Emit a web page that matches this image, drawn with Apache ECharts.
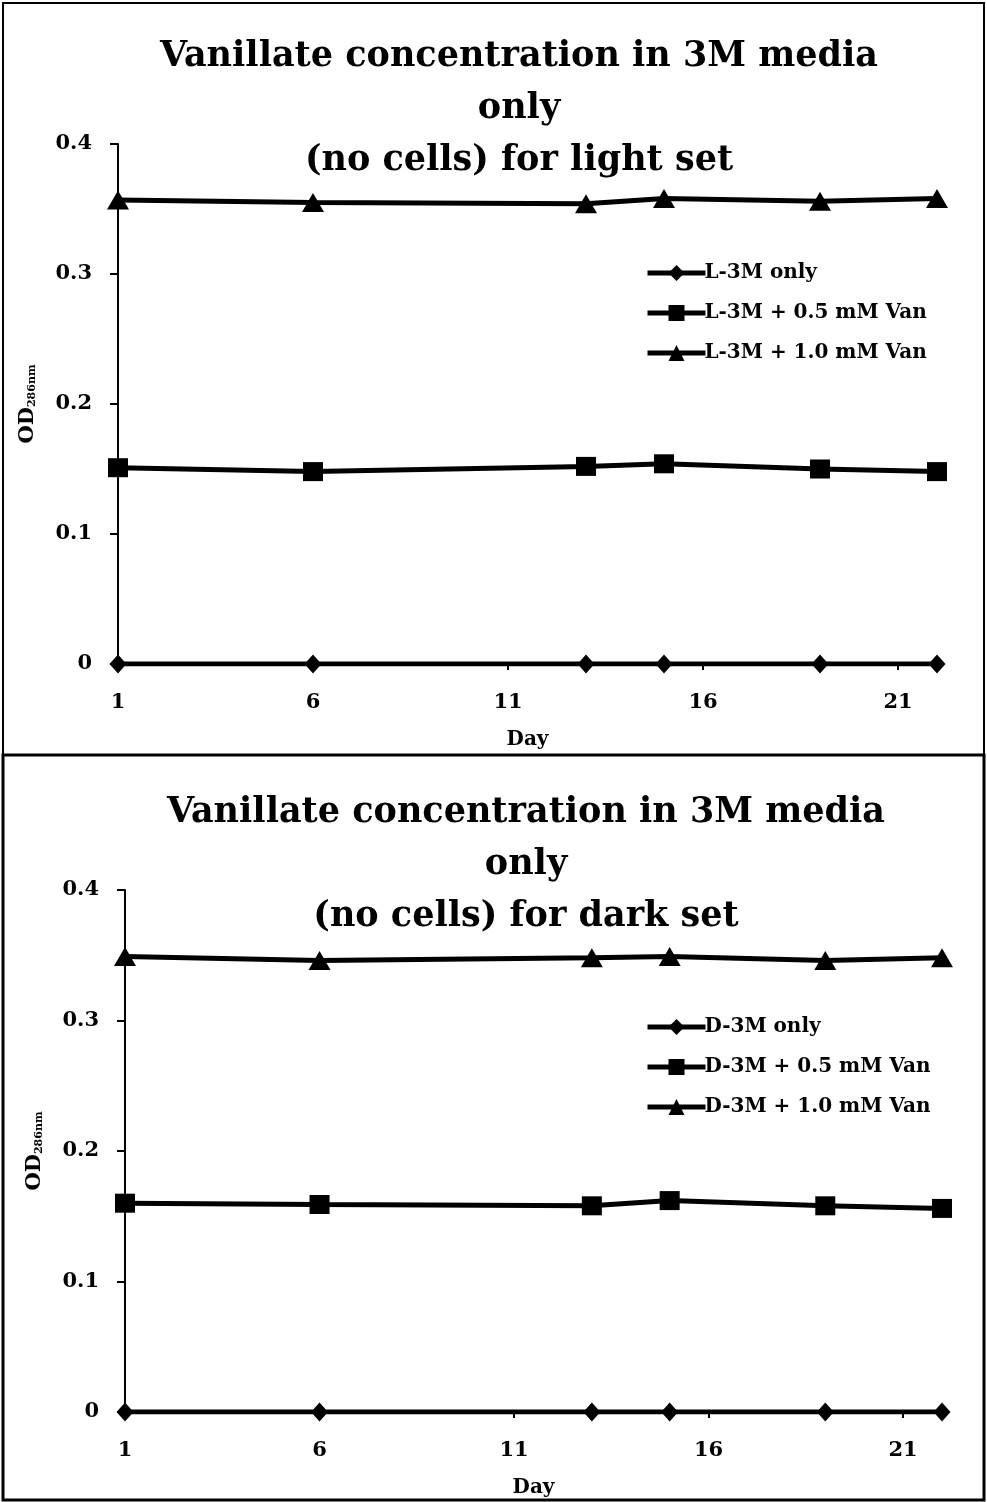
<!DOCTYPE html>
<html><head><meta charset="utf-8">
<script src="https://cdn.jsdelivr.net/npm/echarts@6/dist/echarts.min.js"></script>
<style>html,body{margin:0;padding:0;background:#fff}#c{width:987px;height:1502px}</style>
</head><body><div id="c"></div>
<script>
const days = [1, 6, 13, 15, 19, 22];
const xTicks = [1, 6, 11, 16, 21];
const yTicks = [0, 0.1, 0.2, 0.3, 0.4];
const lightNames = ['L-3M only', 'L-3M + 0.5 mM Van', 'L-3M + 1.0 mM Van'];
const darkNames = ['D-3M only', 'D-3M + 0.5 mM Van', 'D-3M + 1.0 mM Van'];
const lightOnly = [0, 0, 0, 0, 0, 0];
const light05 = [0.151, 0.148, 0.152, 0.154, 0.150, 0.148];
const light10 = [0.357, 0.355, 0.354, 0.358, 0.356, 0.358];
const darkOnly = [0, 0, 0, 0, 0, 0];
const dark05 = [0.160, 0.159, 0.158, 0.162, 0.158, 0.156];
const dark10 = [0.349, 0.346, 0.348, 0.349, 0.346, 0.348];
const titleLight = 'Vanillate concentration in 3M media\nonly\n(no cells) for light set';
const titleDark = 'Vanillate concentration in 3M media\nonly\n(no cells) for dark set';

const F = '"DejaVu Serif", serif';
const pair = a => days.map((d, i) => [d, a[i]]);
const symbols = ['diamond', 'rect', 'triangle'];
const sizes = [[17, 19], [20, 19], [22, 19]];

function xAxis(gi) {
  return {
    type: 'value', gridIndex: gi, min: 1, max: 22, interval: 5,
    name: 'Day', nameLocation: 'middle', nameGap: 66,
    nameTextStyle: {fontFamily: F, fontWeight: 'bold', fontSize: 20, color: '#000'},
    axisLine: {show: true, onZero: false, lineStyle: {color: '#000', width: 2}},
    axisTick: {show: true, inside: false, length: 6, lineStyle: {color: '#000', width: 2}},
    axisLabel: {fontFamily: F, fontWeight: 'bold', fontSize: 21, color: '#000', margin: 28,
      formatter: v => xTicks.includes(v) ? String(v) : ''},
    splitLine: {show: false}
  };
}
function yAxis(gi) {
  return {
    type: 'value', gridIndex: gi, min: 0, max: 0.4, interval: 0.1,
    name: '{a|OD}{b|286nm}', nameLocation: 'middle', nameGap: 80, nameRotate: 90,
    nameTextStyle: {rich: {
      a: {fontFamily: F, fontWeight: 'bold', fontSize: 21, color: '#000', verticalAlign: 'bottom'},
      b: {fontFamily: F, fontWeight: 'bold', fontSize: 11, color: '#000', verticalAlign: 'bottom'}
    }},
    axisLine: {show: true, lineStyle: {color: '#000', width: 2}},
    axisTick: {show: true, length: 8, lineStyle: {color: '#000', width: 2}},
    axisLabel: {fontFamily: F, fontWeight: 'bold', fontSize: 21, color: '#000', margin: 26,
      formatter: v => { const t = yTicks.find(k => Math.abs(k - v) < 1e-9); return t === undefined ? '' : (t === 0 ? '0' : t.toFixed(1)); }},
    splitLine: {show: false}
  };
}
function series(names, arrs, gi) {
  return arrs.map((a, i) => ({
    type: 'line', name: names[i], xAxisIndex: gi, yAxisIndex: gi,
    data: pair(a), symbol: symbols[i], symbolSize: sizes[i], showSymbol: true,
    lineStyle: {color: '#000', width: 5}, itemStyle: {color: '#000'},
    animation: false, z: 3
  }));
}
function legend(names, top) {
  return {
    data: names, orient: 'vertical', left: 640, top: top, itemGap: 20,
    itemWidth: 58, itemHeight: 20,
    lineStyle: {width: 5, color: '#000'},
    textStyle: {fontFamily: F, fontWeight: 'bold', fontSize: 20, color: '#000', padding: [0,0,0,-6]}
  };
}
const chart = echarts.init(document.getElementById('c'), null, {renderer: 'canvas'});
chart.setOption({
  backgroundColor: '#fff',
  animation: false,
  title: [
    {text: titleLight, left: 514, top: 26, textAlign: 'center',
      textStyle: {fontFamily: F, fontWeight: 'bold', fontSize: 35, lineHeight: 52, color: '#000'}},
    {text: titleDark, left: 521, top: 782, textAlign: 'center',
      textStyle: {fontFamily: F, fontWeight: 'bold', fontSize: 35, lineHeight: 52, color: '#000'}}
  ],
  legend: [legend(lightNames, 258), legend(darkNames, 1012)],
  grid: [
    {left: 118, right: 50, top: 144, height: 520},
    {left: 125, right: 45, top: 890, height: 522}
  ],
  xAxis: [xAxis(0), xAxis(1)],
  yAxis: [yAxis(0), yAxis(1)],
  series: [...series(lightNames, [lightOnly, light05, light10], 0), ...series(darkNames, [darkOnly, dark05, dark10], 1)],
  graphic: [
    {type: 'rect', shape: {x: 3, y: 3, width: 981, height: 752}, style: {fill: 'none', stroke: '#000', lineWidth: 2}, silent: true},
    {type: 'rect', shape: {x: 3, y: 755, width: 981, height: 745}, style: {fill: 'none', stroke: '#000', lineWidth: 3}, silent: true}
  ]
});
</script></body></html>
